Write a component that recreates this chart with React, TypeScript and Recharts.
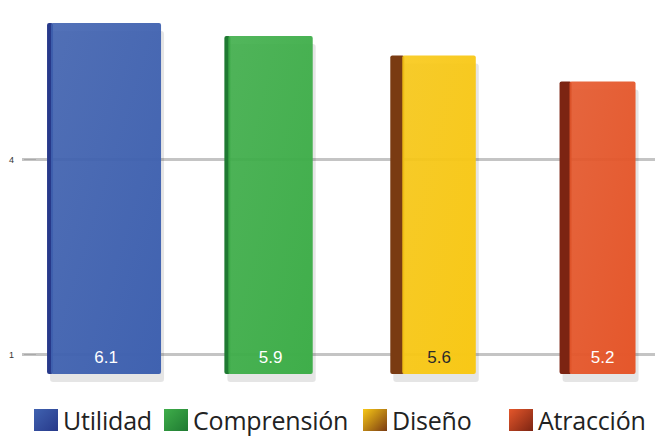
import { Bar, BarChart, Cell, LabelList, Legend, XAxis, YAxis, CartesianGrid } from "recharts";

const categories = ["Utilidad", "Comprensión", "Diseño", "Atracción"];
const scores = [6.1, 5.9, 5.6, 5.2];
const yTicks = [1, 4];
const yDomain: [number, number] = [0.7, 6.3];

const faceColors = ["#4062b0", "#3fae4a", "#f8c816", "#e5572b"];
const edgeColors = ["#27398a", "#1f7a32", "#7a3b12", "#7c2412"];
const sideWidths = [4, 4, 12, 10];
const widthScale = [1.2, 0.93, 0.9, 0.8];
const labelColors = ["#ffffff", "#ffffff", "#2a2a2a", "#ffffff"];

const data = categories.map((name, i) => ({ name, value: scores[i] }));

function Bar3D(props: any) {
  const { x, y, width, height, index } = props;
  const w = width * widthScale[index];
  const x0 = x + (width - w) / 2;
  const side = sideWidths[index];
  const id = `g${index}`;
  return (
    <g>
      <defs>
        <linearGradient id={id} x1="0" y1="0" x2="1" y2="1">
          <stop offset="0%" stopColor={faceColors[index]} stopOpacity={0.9} />
          <stop offset="100%" stopColor={faceColors[index]} stopOpacity={1} />
        </linearGradient>
      </defs>
      <rect x={x0 + 3} y={y + 8} width={w} height={height} fill="#000" opacity={0.1} rx={3} />
      <rect x={x0} y={y} width={side + 2} height={height} fill={edgeColors[index]} rx={2} />
      <rect x={x0 + side} y={y} width={w - side} height={height} fill={`url(#${id})`} rx={2} />
    </g>
  );
}

function BottomLabel(props: any) {
  const { x, y, width, height, index, value } = props;
  const w = width * widthScale[index];
  const x0 = x + (width - w) / 2;
  const side = sideWidths[index];
  return (
    <text
      x={x0 + side + (w - side) / 2}
      y={y + height - 11}
      textAnchor="middle"
      fill={labelColors[index]}
      fontSize={17}
      fontFamily="Liberation Sans, Arial, sans-serif"
    >
      {value}
    </text>
  );
}

function YTick(props: any) {
  const { x, y, payload } = props;
  return (
    <g>
      <text x={x} y={y + 3} textAnchor="end" fontSize={9} fill="#333" fontFamily="Liberation Sans, Arial, sans-serif">
        {payload.value}
      </text>
      <line x1={x + 10} x2={x + 22} y1={y} y2={y} stroke="#aaa" strokeWidth={1} />
    </g>
  );
}

// grid lines only at the two ticks, drawn behind the bars
function gridRows(p: any) {
  const s = p.yAxis?.scale;
  if (typeof s === "function") return yTicks.map((t) => s(t));
  if (s && typeof s.map === "function") return yTicks.map((t) => s.map(t));
  const { top, height } = p.offset;
  const [lo, hi] = yDomain;
  return yTicks.map((t) => top + (height * (hi - t)) / (hi - lo));
}

function LegendContent() {
  const widths = [130, 199, 146, 146];
  return (
    <div
      style={{
        display: "flex",
        boxSizing: "border-box",
        height: 62,
        paddingTop: 34,
        paddingLeft: 34,
        fontFamily: "'Open Sans', sans-serif",
        fontSize: 25,
        letterSpacing: -0.2,
        color: "#222",
        lineHeight: "24px",
      }}
    >
      {categories.map((c, i) => (
        <div key={c} style={{ display: "flex", alignItems: "center", width: widths[i], height: 24 }}>
          <span
            style={{
              display: "inline-block",
              width: 24,
              height: 22,
              marginRight: 5,
              flexShrink: 0,
              background: `linear-gradient(135deg, ${faceColors[i]}, ${edgeColors[i]})`,
            }}
          />
          <span>{c}</span>
        </div>
      ))}
    </div>
  );
}

export default function App() {
  return (
    <div style={{ position: "absolute", left: 0, top: 0, background: "#fff" }}>
      <BarChart
        width={655}
        height={436}
        data={data}
        margin={{ top: 10, right: -25, left: 0, bottom: 0 }}
        barCategoryGap="21%"
      >
        <CartesianGrid vertical={false} stroke="#c4c4c4" strokeWidth={3} horizontalCoordinatesGenerator={gridRows} />
        <XAxis dataKey="name" hide height={0} />
        <YAxis
          domain={yDomain}
          ticks={yTicks}
          width={22}
          axisLine={false}
          tickLine={false}
          tickMargin={2}
          tick={<YTick />}
        />
        <Legend verticalAlign="bottom" content={<LegendContent />} />
        <Bar dataKey="value" isAnimationActive={false} shape={<Bar3D />}>
          {data.map((d, i) => (
            <Cell key={d.name} fill={faceColors[i]} />
          ))}
          <LabelList dataKey="value" content={<BottomLabel />} />
        </Bar>
      </BarChart>
    </div>
  );
}
